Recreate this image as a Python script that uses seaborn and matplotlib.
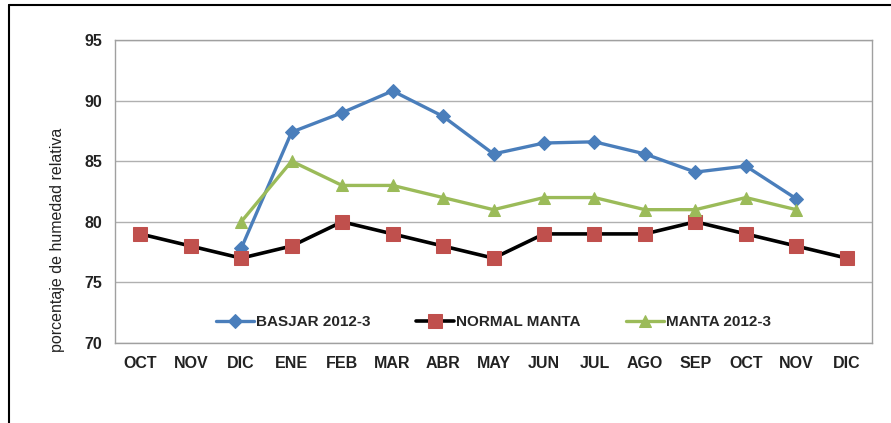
import numpy as np
import pandas as pd
import matplotlib
matplotlib.use('Agg')
import matplotlib.pyplot as plt
import seaborn as sns

# =====================
# DATOS
# =====================
meses = ['OCT', 'NOV', 'DIC', 'ENE', 'FEB', 'MAR', 'ABR', 'MAY',
         'JUN', 'JUL', 'AGO', 'SEP', 'OCT', 'NOV', 'DIC']
basjar = [np.nan, np.nan, 77.8, 87.4, 89.0, 90.8, 88.7, 85.6,
          86.5, 86.6, 85.6, 84.1, 84.6, 81.9, np.nan]
normal_manta = [79, 78, 77, 78, 80, 79, 78, 77, 79, 79, 79, 80, 79, 78, 77]
manta = [np.nan, np.nan, 80, 85, 83, 83, 82, 81, 82, 82, 81, 81, 82, 81, np.nan]

pos = np.arange(len(meses))
df = pd.DataFrame({'pos': pos, 'basjar': basjar,
                   'normal': normal_manta, 'manta': manta})

sns.set_style('white')
plt.rcParams['font.family'] = ['Liberation Sans', 'DejaVu Sans']

fig = plt.figure(figsize=(8.91, 4.23), dpi=100)
ax = fig.add_axes([115 / 891, 1 - 343 / 423, 757 / 891, 303 / 423])

sns.lineplot(data=df, x='pos', y='basjar', ax=ax, color='#4a7ebb', lw=2.4,
             marker='D', markersize=7, markeredgecolor='#4a7ebb',
             label='BASJAR 2012-3')
sns.lineplot(data=df, x='pos', y='normal', ax=ax, color='black', lw=2.6,
             marker='s', markersize=10, markerfacecolor='#c0504d',
             markeredgecolor='#c0504d', label='NORMAL MANTA')
sns.lineplot(data=df, x='pos', y='manta', ax=ax, color='#9bbb59', lw=2.4,
             marker='^', markersize=9, markeredgecolor='#9bbb59',
             label='MANTA 2012-3')

ax.set_xlim(-0.5, len(meses) - 0.5)
ax.set_ylim(70, 95)
ax.set_yticks([70, 75, 80, 85, 90, 95])
ax.set_xticks(pos)
ax.set_xticklabels(meses, fontsize=11.5, fontweight='bold', color='#222222')
for t in ax.get_yticklabels():
    t.set_fontsize(11.5)
    t.set_fontweight('bold')
    t.set_color('#222222')
ax.tick_params(axis='both', length=0, pad=9)
ax.set_xlabel('')
ax.set_ylabel('porcentaje de humedad relativa', fontsize=11.5,
              color='#222222')
ax.yaxis.set_label_coords(-0.066, 0.34)
ax.yaxis.grid(True, color='#b0b0b0', lw=1)
ax.set_axisbelow(True)
for s in ax.spines.values():
    s.set_color('#a0a0a0')
    s.set_linewidth(1)

ax.legend(loc='lower center', bbox_to_anchor=(0.5, 0.0), ncol=3,
          frameon=False, prop={'weight': 'bold', 'size': 11},
          handlelength=2.5, columnspacing=3, handletextpad=0.1)

# marco exterior
fig.add_artist(plt.Line2D([9 / 891, 9 / 891], [0, 1 - 5 / 423],
                          color='black', lw=1.5, transform=fig.transFigure))
fig.add_artist(plt.Line2D([9 / 891, 1], [1 - 5 / 423, 1 - 5 / 423],
                          color='black', lw=1.5, transform=fig.transFigure))

fig.savefig('out.png', dpi=100)
